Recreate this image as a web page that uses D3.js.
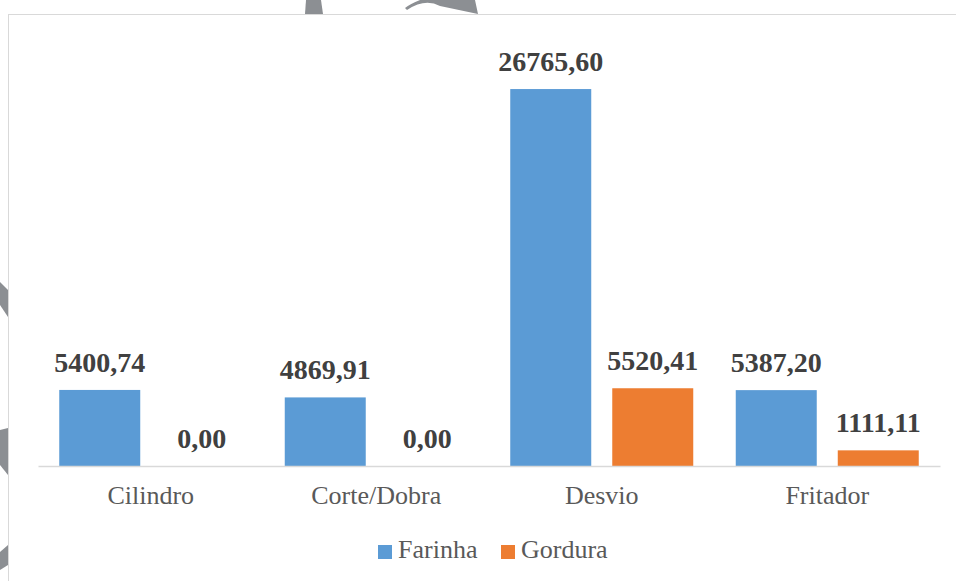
<!DOCTYPE html>
<html>
<head>
<meta charset="utf-8">
<script src="https://cdn.jsdelivr.net/npm/d3@7"></script>
<style>
  body { margin: 0; background: #fff; }
  svg { display: block; }
  svg text { font-family: "Liberation Serif", "Times New Roman", Times, serif; }
</style>
</head>
<body>
<div id="chart"></div>
<script>
const categories = ["Cilindro", "Corte/Dobra", "Desvio", "Fritador"];
const series = ["Farinha", "Gordura"];
const farinha = [5400.74, 4869.91, 26765.60, 5387.20];
const gordura = [0.00, 0.00, 5520.41, 1111.11];
const colors = ["#5B9BD5", "#ED7D31"];

const width = 956, height = 581;
const serif = '"Liberation Serif", "Times New Roman", Times, serif';
const svg = d3.select("#chart").append("svg")
    .attr("width", width).attr("height", height);

// watermark bits peeking out behind the chart box
const wm = svg.append("g").attr("fill", "#8c8f93");
wm.append("path").attr("d", "M306,0 L321,0 L323,14 L305,14 Z");
wm.append("path").attr("d", "M407,10 Q425,-2 440,6 L478,14 L475,0 L420,0 Q410,4 405,8 Z");
wm.append("path").attr("d", "M0,282 L8,290 L8,317 L0,305 Z");
wm.append("path").attr("d", "M0,430 L8,428 L8,475 L0,465 Z");
wm.append("path").attr("d", "M0,552 L8,545 L8,565 L0,570 Z");

// chart box
svg.append("rect")
    .attr("x", 8.5).attr("y", 14.5)
    .attr("width", 960).attr("height", 600)
    .attr("fill", "#fff").attr("stroke", "#d9d9d9").attr("stroke-width", 1);

const x0 = d3.scaleBand().domain(categories).range([38, 940]);
const x1 = d3.scaleBand().domain(series).range([21.25, x0.bandwidth() - 21.25]).paddingInner(0.206);
const y = d3.scaleLinear().domain([0, 30000]).range([466, 43.5]);

const rows = categories.map((c, i) => ({ cat: c, vals: [farinha[i], gordura[i]] }));

const groups = svg.selectAll("g.cat").data(rows).enter().append("g")
    .attr("class", "cat")
    .attr("transform", d => `translate(${x0(d.cat)},0)`);

groups.selectAll("rect").data(d => d.vals.map((v, j) => ({ s: series[j], v, j })))
    .enter().append("rect")
    .attr("x", d => x1(d.s))
    .attr("y", d => y(d.v))
    .attr("width", x1.bandwidth())
    .attr("height", d => y(0) - y(d.v))
    .attr("fill", d => colors[d.j]);

const fmt = v => v.toFixed(2).replace(".", ",");
groups.selectAll("text.lbl").data(d => d.vals.map((v, j) => ({ s: series[j], v, j })))
    .enter().append("text")
    .attr("class", "lbl")
    .attr("x", d => x1(d.s) + x1.bandwidth() / 2)
    .attr("y", d => y(d.v) - 18)
    .attr("text-anchor", "middle")
    .style("font-family", serif)
    .style("font-weight", "bold")
    .style("font-size", "28px")
    .attr("fill", "#404040")
    .text(d => fmt(d.v));

// axis
const xAxis = svg.append("g")
    .attr("transform", `translate(0,${y(0)})`)
    .call(d3.axisBottom(x0).tickSize(0).tickPadding(20));
xAxis.select(".domain").attr("stroke", "#d9d9d9").attr("stroke-width", 1.5);
xAxis.selectAll("text")
    .style("font-family", serif)
    .style("font-size", "26px")
    .attr("fill", "#595959");

// legend
const legend = svg.append("g");
const legX = [378, 501];
series.forEach((s, i) => {
    legend.append("rect")
        .attr("x", legX[i]).attr("y", 545)
        .attr("width", 14).attr("height", 14)
        .attr("fill", colors[i]);
    legend.append("text")
        .attr("x", legX[i] + 20).attr("y", 558)
        .style("font-family", serif)
        .style("font-size", "26px")
        .attr("fill", "#595959")
        .text(s);
});
</script>
</body>
</html>
